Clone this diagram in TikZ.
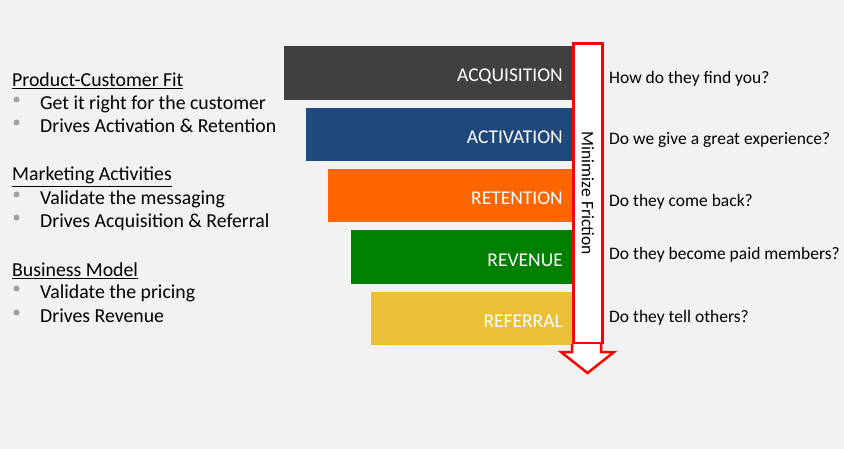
\documentclass[tikz,border=0pt]{standalone}
\usepackage{fontspec}
\setmainfont{Carlito}
\usetikzlibrary{positioning}
\definecolor{bggray}{HTML}{F2F2F2}
\definecolor{acqgray}{HTML}{404040}
\definecolor{actblue}{HTML}{1F497D}
\definecolor{retorange}{HTML}{FF6600}
\definecolor{revgreen}{HTML}{008000}
\definecolor{refyellow}{HTML}{E9C038}
\definecolor{dotgray}{HTML}{A0A0A0}

\begin{document}
\begin{tikzpicture}[
  x=1pt, y=-1pt,
  font=\fontsize{17.5}{21}\selectfont,
  bar/.style={rectangle, minimum height=53.5pt, inner sep=0pt, anchor=north east},
  barlabel/.style={text=white, anchor=base east, inner sep=0pt, font=\fontsize{19.5}{23}\selectfont},
  question/.style={anchor=base west, inner sep=0pt},
  heading/.style={anchor=base west, inner sep=0pt, font=\fontsize{19.8}{23}\selectfont},
  item/.style={anchor=base west, inner sep=0pt, font=\fontsize{19.8}{23}\selectfont},
  dot/.style={circle, fill=dotgray, minimum size=6pt, inner sep=0pt},
  redbox/.style={draw=red, line width=2.5pt, fill=white, line join=miter}
]

% Background
\fill[bggray] (0,0) rectangle (844,449);
\useasboundingbox (0,0) rectangle (844,449);

% Funnel bars
\node[bar, fill=acqgray, minimum width=306pt] (acq) at (590,46) {};
\node[bar, fill=actblue, minimum width=284pt, below left=7.5pt and 0pt of acq.south east] (act) {};
\node[bar, fill=retorange, minimum width=262pt, below left=7.5pt and 0pt of act.south east] (ret) {};
\node[bar, fill=revgreen, minimum width=239pt, below left=7.5pt and 0pt of ret.south east] (rev) {};
\node[bar, fill=refyellow, minimum width=219pt, below left=7.5pt and 0pt of rev.south east] (ref) {};

% Bar labels
\node[barlabel] (acqlabel) at ([xshift=-27pt, yshift=-9pt]acq.east) {ACQUISITION};
\node[barlabel] (actlabel) at ([xshift=-27pt, yshift=-9pt]act.east) {ACTIVATION};
\node[barlabel] (retlabel) at ([xshift=-27pt, yshift=-9pt]ret.east) {RETENTION};
\node[barlabel] (revlabel) at ([xshift=-27pt, yshift=-9pt]rev.east) {REVENUE};
\node[barlabel] (reflabel) at ([xshift=-27pt, yshift=-9pt]ref.east) {REFERRAL};

% Arrow: head first, then the shaft on top
\coordinate (shaftbottom) at (572,344);
\draw[redbox] (shaftbottom) -- ++(0,8) -- ++(-11,0) -- ++(26.5,21) -- ++(26.5,-21) -- ++(-13,0) -- ++(0,-8);
\node[redbox, minimum width=29pt, minimum height=299pt, inner sep=0pt, anchor=south west] (friction) at (shaftbottom) {};
\node[rotate=-90] (frictionlabel) at (friction.center) {Minimize Friction};

% Questions
\node[question] (qacq) at (609,84) {How do they find you?};
\node[question] (qact) at (609,145) {Do we give a great experience?};
\node[question] (qret) at (609,207) {Do they come back?};
\node[question] (qrev) at (609,260) {Do they become paid members?};
\node[question] (qref) at (609,323) {Do they tell others?};

% Left column
\node[heading] (pcfit) at (12,87) {\underline{Product-Customer Fit}};
\node[heading] (mktact) at (12,181) {\underline{Marketing Activities}};
\node[heading] (bizmodel) at (12,277) {\underline{Business Model}};

\foreach \y/\txt in {110/Get it right for the customer, 133/Drives Activation \& Retention,
    205/Validate the messaging, 228/Drives Acquisition \& Referral,
    299/Validate the pricing, 323/Drives Revenue} {
  \node[dot] (dot\y) at (16.5,\y-10.5) {};
  \node[item] (item\y) at (40,\y) {\txt};
}

\end{tikzpicture}
\end{document}
